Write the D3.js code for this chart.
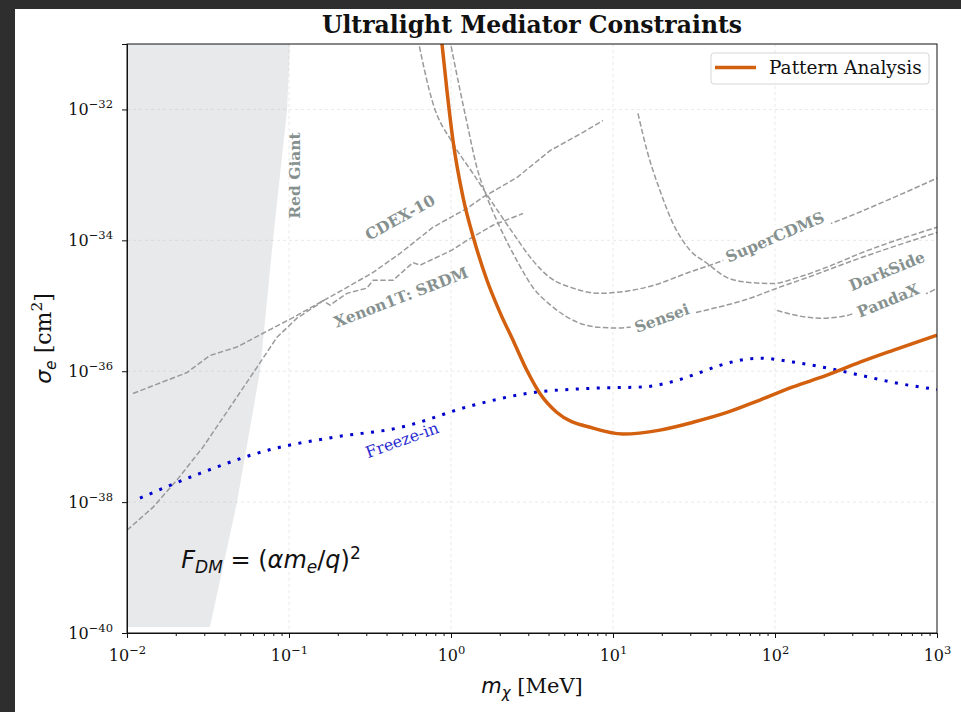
<!DOCTYPE html>
<html>
<head>
<meta charset="utf-8">
<script src="https://cdn.jsdelivr.net/npm/d3@7"></script>
<style>
  html, body { margin: 0; padding: 0; background: #2e2e2e; }
  svg { display: block; }
  text { font-family: "DejaVu Serif", serif; }
  .math { font-family: "DejaVu Sans", sans-serif; }
</style>
</head>
<body>
<div id="chart"></div>
<script>
// ----------------------------------------------
// Data (all pairs are [log10 m_chi / MeV, log10 sigma_e / cm^2])
// ----------------------------------------------
const massTicks = [1e-2, 1e-1, 1e0, 1e1, 1e2, 1e3];
const massTickExp = ['\u22122', '\u22121', '0', '1', '2', '3'];
const sigmaTicks = [1e-40, 1e-38, 1e-36, 1e-34, 1e-32];
const sigmaTickExp = ['\u221240', '\u221238', '\u221236', '\u221234', '\u221232'];

const redGiantEdge = [
  [-1.488, -39.91], [-1.321, -38.0], [-1.179, -36.0],
  [-1.099, -34.0], [-1.012, -32.0], [-0.994, -31.0]
];

const cdexLine = [
  [-1.963, -36.34], [-1.796, -36.18], [-1.630, -36.02], [-1.488, -35.76],
  [-1.321, -35.63], [-1.160, -35.42], [-0.975, -35.18], [-0.809, -34.95],
  [-0.642, -34.72], [-0.481, -34.49], [-0.315, -34.20], [-0.111, -33.80],
  [0.099, -33.51], [0.198, -33.34], [0.407, -33.04], [0.611, -32.63],
  [0.815, -32.35], [0.938, -32.17]
];

const xenonLine = [
  [-2.0, -38.43], [-1.840, -38.08], [-1.691, -37.66], [-1.531, -37.16],
  [-1.364, -36.55], [-1.198, -35.94], [-1.074, -35.48], [-0.951, -35.19],
  [-0.827, -34.99], [-0.790, -34.92], [-0.747, -34.99], [-0.642, -34.81],
  [-0.519, -34.73], [-0.481, -34.61], [-0.358, -34.61], [-0.235, -34.34],
  [-0.191, -34.38], [0.006, -34.15], [0.099, -34.0], [0.259, -33.77],
  [0.444, -33.59]
];

const superCdmsLine = [
  [-0.215, -30.80], [-0.111, -31.91], [0.012, -32.52], [0.136, -32.98],
  [0.259, -33.44], [0.383, -33.89], [0.506, -34.31], [0.611, -34.57],
  [0.753, -34.73], [0.920, -34.81], [1.043, -34.79], [1.247, -34.69],
  [1.457, -34.50], [1.599, -34.38], [2.0, -34.00], [2.358, -33.73],
  [2.691, -33.39], [3.0, -33.05]
];

const senseiLine = [
  [-0.018, -30.80], [0.056, -31.71], [0.099, -32.21], [0.160, -32.89],
  [0.222, -33.34], [0.302, -33.80], [0.407, -34.31], [0.506, -34.72],
  [0.630, -35.02], [0.778, -35.25], [0.920, -35.33], [1.043, -35.34],
  [1.167, -35.30], [1.519, -35.10], [1.864, -34.87], [2.012, -34.73],
  [2.198, -34.57], [2.481, -34.31], [3.0, -33.88]
];

const darkSideLine = [
  [1.154, -32.06], [1.210, -32.63], [1.290, -33.24], [1.370, -33.74],
  [1.475, -34.15], [1.580, -34.35], [1.704, -34.57], [1.827, -34.64],
  [1.988, -34.66], [2.136, -34.57], [2.321, -34.41], [2.525, -34.20],
  [3.0, -33.80]
];

const pandaXLine = [
  [2.012, -35.07], [2.136, -35.15], [2.278, -35.19], [2.444, -35.15],
  [2.586, -34.99], [2.957, -34.79], [3.0, -34.73]
];

const freezeInLine = [
  [-1.920, -37.94], [-1.549, -37.56], [-1.136, -37.21], [-0.728, -37.01],
  [-0.315, -36.86], [0.136, -36.52], [0.469, -36.34], [0.877, -36.26],
  [1.185, -36.24], [1.395, -36.14], [1.537, -36.02], [1.660, -35.91],
  [1.907, -35.80], [2.111, -35.86], [2.321, -35.95], [2.525, -36.06],
  [2.728, -36.17], [3.0, -36.28]
];

const patternLine = [
  [-0.062, -30.85], [-0.025, -31.71], [0.012, -32.47], [0.074, -33.34],
  [0.142, -33.99], [0.222, -34.61], [0.302, -35.10], [0.389, -35.56],
  [0.469, -35.99], [0.549, -36.34], [0.654, -36.63], [0.877, -36.87],
  [1.062, -36.96], [1.290, -36.90], [1.494, -36.78], [1.704, -36.63],
  [1.907, -36.44], [2.111, -36.24], [2.321, -36.06], [2.525, -35.86],
  [2.728, -35.68], [3.0, -35.45]
];

// label text, anchor [log m, log sigma], rotation, whether it masks the line
const curveLabels = [
  { text: 'Red Giant', at: [-0.963, -33.01], angle: -90, box: false },
  { text: 'CDEX-10', at: [-0.315, -33.65], angle: -29, box: false },
  { text: 'Xenon1T: SRDM', at: [-0.309, -34.87], angle: -21, box: false },
  { text: 'SuperCDMS', at: [2.0, -33.95], angle: -23, box: true },
  { text: 'Sensei', at: [1.302, -35.19], angle: -20, box: true },
  { text: 'DarkSide', at: [2.691, -34.47], angle: -22, box: false },
  { text: 'PandaX', at: [2.698, -34.92], angle: -22, box: true }
];
const freezeInLabel = { text: 'Freeze-in', at: [-0.302, -37.05], angle: -20 };

// ----------------------------------------------
// Layout
// ----------------------------------------------
const W = 961, H = 712;
const plotL = 127, plotR = 937, plotT = 44, plotB = 633;
const grey = '#9a9a9a';
const labelGrey = '#86918f';
const orange = '#d2600e';
const blue = '#0000cc';

const svg = d3.select('#chart').append('svg')
  .attr('width', W)
  .attr('height', H);

svg.append('rect').attr('width', W).attr('height', H).attr('fill', '#2e2e2e');
svg.append('rect').attr('x', 15).attr('y', 9).attr('width', W - 15).attr('height', H - 9).attr('fill', '#fff');

const x = d3.scaleLog().domain([1e-2, 1e3]).range([plotL, plotR]);
const y = d3.scaleLog().domain([1e-40, 1e-31]).range([plotB, plotT]);
const px = d => x(Math.pow(10, d[0]));
const py = d => y(Math.pow(10, d[1]));

svg.append('clipPath').attr('id', 'plotClip')
  .append('rect')
  .attr('x', plotL).attr('y', plotT)
  .attr('width', plotR - plotL).attr('height', plotB - plotT);

const plot = svg.append('g').attr('clip-path', 'url(#plotClip)');

// Red giant band
const rgPoly = [[-2, redGiantEdge[0][1]], ...redGiantEdge, [-2, -31]];
plot.append('path')
  .attr('d', d3.line().x(px).y(py)(rgPoly) + 'Z')
  .attr('fill', '#e8e9eb');

// Grid
plot.append('g').selectAll('line')
  .data(massTicks.slice(1, -1))
  .join('line')
  .attr('x1', d => x(d)).attr('x2', d => x(d))
  .attr('y1', plotT).attr('y2', plotB)
  .attr('stroke', '#b0b0b0').attr('stroke-opacity', 0.35)
  .attr('stroke-width', 0.8).attr('stroke-dasharray', '3,3');

plot.append('g').selectAll('line')
  .data(sigmaTicks.slice(1))
  .join('line')
  .attr('y1', d => y(d)).attr('y2', d => y(d))
  .attr('x1', plotL).attr('x2', plotR)
  .attr('stroke', '#b0b0b0').attr('stroke-opacity', 0.35)
  .attr('stroke-width', 0.8).attr('stroke-dasharray', '3,3');

// Existing limits (grey dashed)
const smooth = d3.line().x(px).y(py).curve(d3.curveMonotoneX);
const straight = d3.line().x(px).y(py);

[[cdexLine, straight], [xenonLine, straight], [superCdmsLine, smooth],
 [senseiLine, smooth], [darkSideLine, smooth], [pandaXLine, smooth]].forEach(([pts, gen]) => {
  plot.append('path')
    .attr('d', gen(pts))
    .attr('fill', 'none')
    .attr('stroke', grey)
    .attr('stroke-width', 1.5)
    .attr('stroke-dasharray', '5.5,2.4');
});

// Freeze-in target (blue dotted)
plot.append('path')
  .attr('d', smooth(freezeInLine))
  .attr('fill', 'none')
  .attr('stroke', blue)
  .attr('stroke-width', 3)
  .attr('stroke-dasharray', '3,7.5');

// Pattern analysis curve
plot.append('path')
  .attr('d', smooth(patternLine))
  .attr('fill', 'none')
  .attr('stroke', orange)
  .attr('stroke-width', 3.5)
  .attr('stroke-linejoin', 'round');

// Curve labels
function addLabel(l, color, weight, size) {
  const g = plot.append('g')
    .attr('transform', `translate(${px(l.at)},${py(l.at)}) rotate(${l.angle})`);
  const t = g.append('text')
    .attr('text-anchor', 'middle')
    .attr('dy', '0.35em')
    .attr('font-size', size)
    .attr('font-weight', weight)
    .attr('fill', color)
    .text(l.text);
  if (l.box) {
    const bb = t.node().getBBox();
    g.insert('rect', 'text')
      .attr('x', bb.x - 4).attr('y', bb.y - 1)
      .attr('width', bb.width + 8).attr('height', bb.height + 2)
      .attr('fill', '#fff');
  }
}
curveLabels.forEach(l => addLabel(l, labelGrey, 'bold', 15.5));
addLabel(freezeInLabel, '#2b2bd0', 'normal', 16);

// Form factor annotation
const fdm = svg.append('text')
  .attr('class', 'math')
  .attr('x', px([-1.665, -39.0]))
  .attr('y', py([-1.665, -39.0]))
  .attr('font-size', 24)
  .attr('fill', '#111');
fdm.append('tspan').attr('font-style', 'italic').text('F');
fdm.append('tspan').attr('font-style', 'italic').attr('font-size', 17).attr('dy', 5).text('DM');
fdm.append('tspan').attr('dy', -5).text(' = (');
fdm.append('tspan').attr('font-style', 'italic').text('αm');
fdm.append('tspan').attr('font-style', 'italic').attr('font-size', 17).attr('dy', 5).text('e');
fdm.append('tspan').attr('dy', -5).text('/');
fdm.append('tspan').attr('font-style', 'italic').text('q');
fdm.append('tspan').text(')');
fdm.append('tspan').attr('font-size', 17).attr('dy', -9).text('2');

// ----------------------------------------------
// Axes
// ----------------------------------------------
const minorMass = x.ticks().filter(v => !massTicks.some(m => Math.abs(m - v) / m < 1e-6));

const xAxis = svg.append('g')
  .attr('transform', `translate(0,${plotB})`)
  .call(d3.axisBottom(x).tickValues(massTicks).tickSize(5).tickPadding(12).tickFormat(() => '10'));
svg.append('g')
  .attr('transform', `translate(0,${plotB})`)
  .call(d3.axisBottom(x).tickValues(minorMass).tickSize(3).tickFormat(''))
  .call(g => g.select('.domain').remove());

xAxis.selectAll('.tick text')
  .attr('font-size', 16)
  .attr('fill', '#111')
  .attr('font-family', '"DejaVu Serif", serif')
  .each(function (d, i) {
    d3.select(this).append('tspan')
      .attr('font-size', 11.5)
      .attr('dy', '-0.6em')
      .text(massTickExp[i]);
  });

const yAxis = svg.append('g')
  .attr('transform', `translate(${plotL},0)`)
  .call(d3.axisLeft(y).tickValues(sigmaTicks).tickSize(5).tickPadding(9).tickFormat(() => '10'));

yAxis.selectAll('.tick text')
  .attr('font-size', 16)
  .attr('fill', '#111')
  .attr('font-family', '"DejaVu Serif", serif')
  .each(function (d, i) {
    d3.select(this).append('tspan')
      .attr('font-size', 11.5)
      .attr('dy', '-0.6em')
      .text(sigmaTickExp[i]);
  });

svg.selectAll('.domain').attr('stroke', '#111');
svg.selectAll('.tick line').attr('stroke', '#111');

// frame
svg.append('rect')
  .attr('x', plotL).attr('y', plotT)
  .attr('width', plotR - plotL).attr('height', plotB - plotT)
  .attr('fill', 'none').attr('stroke', '#111').attr('stroke-width', 1);

// Axis titles
const xt = svg.append('text')
  .attr('x', (plotL + plotR) / 2).attr('y', 693)
  .attr('text-anchor', 'middle')
  .attr('font-size', 21)
  .attr('fill', '#111');
xt.append('tspan').attr('class', 'math').attr('font-style', 'italic').text('m');
xt.append('tspan').attr('class', 'math').attr('font-style', 'italic').attr('font-size', 15).attr('dy', 5).text('χ');
xt.append('tspan').attr('dy', -5).text(' [MeV]');

const yt = svg.append('text')
  .attr('transform', `translate(51,${(plotT + plotB) / 2}) rotate(-90)`)
  .attr('text-anchor', 'middle')
  .attr('font-size', 22)
  .attr('fill', '#111');
yt.append('tspan').attr('class', 'math').attr('font-style', 'italic').text('σ');
yt.append('tspan').attr('class', 'math').attr('font-style', 'italic').attr('font-size', 15.5).attr('dy', 5).text('e');
yt.append('tspan').attr('dy', -5).text(' [cm');
yt.append('tspan').attr('font-size', 15.5).attr('dy', -9).text('2');
yt.append('tspan').attr('dy', 9).text(']');

// Title
svg.append('text')
  .attr('x', (plotL + plotR) / 2).attr('y', 33)
  .attr('text-anchor', 'middle')
  .attr('font-size', 23.5)
  .attr('font-weight', 'bold')
  .attr('fill', '#111')
  .text('Ultralight Mediator Constraints');

// ----------------------------------------------
// Legend
// ----------------------------------------------
const legend = svg.append('g');
legend.append('rect')
  .attr('x', 711).attr('y', 53)
  .attr('width', 218).attr('height', 31)
  .attr('rx', 3)
  .attr('fill', '#fff').attr('fill-opacity', 0.8)
  .attr('stroke', '#d6d6d6');
legend.append('line')
  .attr('x1', 715).attr('x2', 756)
  .attr('y1', 67.5).attr('y2', 67.5)
  .attr('stroke', orange).attr('stroke-width', 3.5);
legend.append('text')
  .attr('x', 769).attr('y', 74)
  .attr('font-size', 18.5)
  .attr('fill', '#111')
  .text('Pattern Analysis');
</script>
</body>
</html>
